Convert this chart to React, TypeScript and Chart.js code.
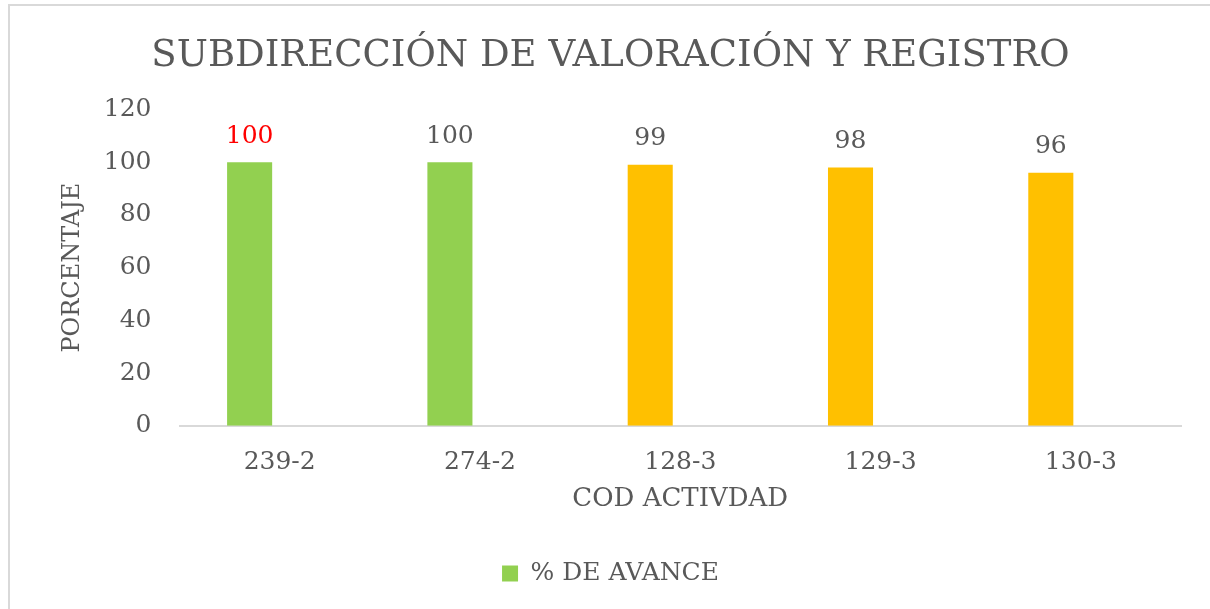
import React, { useEffect, useRef } from "react";
import { Chart, registerables } from "chart.js";

Chart.register(...registerables);

const categories = ["239-2", "274-2", "128-3", "129-3", "130-3"];
const avance = [100, 100, 99, 98, 96];
const barColors = ["#92D050", "#92D050", "#FFC000", "#FFC000", "#FFC000"];
const labelColors = ["#FF0000", "#595959", "#595959", "#595959", "#595959"];
const yTicks = [0, 20, 40, 60, 80, 100, 120];

const TEXT = "#595959";
const SERIF = "'DejaVu Serif', 'Liberation Serif', serif";

const framePlugin = {
  id: "frame",
  beforeDraw(chart: any) {
    const { ctx, width, height } = chart;
    ctx.save();
    ctx.fillStyle = "#FFFFFF";
    ctx.fillRect(0, 0, width, height);
    ctx.strokeStyle = "#D9D9D9";
    ctx.lineWidth = 2;
    ctx.beginPath();
    ctx.moveTo(9, height);
    ctx.lineTo(9, 5);
    ctx.lineTo(width, 5);
    ctx.stroke();
    ctx.restore();
  },
};

const valueLabelPlugin = {
  id: "valueLabels",
  afterDatasetsDraw(chart: any) {
    const { ctx } = chart;
    const meta = chart.getDatasetMeta(0);
    ctx.save();
    ctx.font = `25px ${SERIF}`;
    ctx.textAlign = "center";
    ctx.textBaseline = "middle";
    meta.data.forEach((bar: any, i: number) => {
      ctx.fillStyle = labelColors[i];
      ctx.fillText(String(avance[i]), bar.x, bar.y - 26);
    });
    ctx.restore();
  },
};

export default function App() {
  const ref = useRef<HTMLCanvasElement>(null);
  useEffect(() => {
    if (!ref.current) return;
    const chart = new Chart(ref.current, {
      type: "bar",
      data: {
        labels: categories,
        datasets: [
          {
            label: "% DE AVANCE",
            data: avance,
            backgroundColor: barColors,
            barPercentage: 0.75,
            categoryPercentage: 0.6,
          },
          {
            label: "",
            data: categories.map(() => null),
            backgroundColor: "rgba(0,0,0,0)",
            barPercentage: 0.75,
            categoryPercentage: 0.6,
          },
        ],
      },
      options: {
        animation: false,
        responsive: false,
        maintainAspectRatio: false,
        layout: { padding: { top: 10, left: 40, right: 29, bottom: 13 } },
        plugins: {
          tooltip: { enabled: false },
          title: {
            display: true,
            text: "SUBDIRECCIÓN DE VALORACIÓN Y REGISTRO",
            color: TEXT,
            font: { family: SERIF, size: 37, weight: "normal" },
            padding: { top: 24, bottom: 31 },
          },
          legend: {
            display: true,
            position: "bottom",
            labels: {
              color: TEXT,
              font: { family: SERIF, size: 25 },
              boxWidth: 16,
              boxHeight: 16,
              padding: 10,
              generateLabels: () => [
                {
                  text: "% DE AVANCE",
                  fillStyle: "#92D050",
                  strokeStyle: "#92D050",
                  lineWidth: 0,
                  fontColor: TEXT,
                  datasetIndex: 0,
                  hidden: false,
                },
              ],
            },
          },
        },
        scales: {
          x: {
            grid: { display: false, drawTicks: false },
            border: { display: true, color: "#D9D9D9", width: 2 },
            ticks: { color: TEXT, font: { family: SERIF, size: 25 }, padding: 22 },
            title: {
              display: true,
              text: "COD ACTIVDAD",
              color: TEXT,
              font: { family: SERIF, size: 26 },
              padding: { top: -16, bottom: 36 },
            },
          },
          y: {
            min: 0,
            max: 120,
            afterBuildTicks: (axis: any) => {
              axis.ticks = yTicks.map((v) => ({ value: v }));
            },
            grid: { display: false, drawTicks: false },
            border: { display: false },
            ticks: { color: TEXT, font: { family: SERIF, size: 25 }, padding: 28 },
            title: {
              display: true,
              text: "PORCENTAJE",
              color: TEXT,
              font: { family: SERIF, size: 24 },
              padding: { top: 18, bottom: -11 },
            },
          },
        },
      },
      plugins: [framePlugin, valueLabelPlugin],
    });
    return () => chart.destroy();
  }, []);
  return (
    <div style={{ position: "fixed", left: 0, top: 0, width: 1210, height: 609, background: "#fff" }}>
      <canvas ref={ref} width={1210} height={609} style={{ width: 1210, height: 609, display: "block" }} />
    </div>
  );
}
